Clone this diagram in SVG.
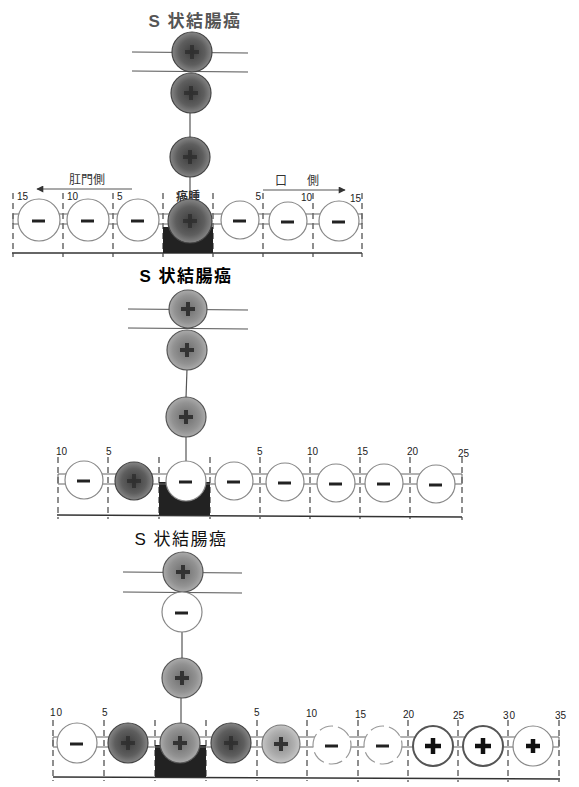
<svg xmlns="http://www.w3.org/2000/svg" width="579" height="787" viewBox="0 0 579 787">
<defs>
<radialGradient id="gDark" cx="50%" cy="50%" r="50%">
<stop offset="0%" stop-color="#3e3e3e"/><stop offset="65%" stop-color="#5e5e5e"/><stop offset="100%" stop-color="#858585"/>
</radialGradient>
<radialGradient id="gMid" cx="50%" cy="50%" r="50%">
<stop offset="0%" stop-color="#6e6e6e"/><stop offset="70%" stop-color="#929292"/><stop offset="100%" stop-color="#ababab"/>
</radialGradient>
<radialGradient id="gLight" cx="50%" cy="50%" r="50%">
<stop offset="0%" stop-color="#8a8a8a"/><stop offset="70%" stop-color="#b0b0b0"/><stop offset="100%" stop-color="#c6c6c6"/>
</radialGradient>
<marker id="ah" viewBox="0 0 10 10" refX="9" refY="5" markerWidth="9" markerHeight="7" orient="auto" markerUnits="userSpaceOnUse">
<path d="M0,0 L10,5 L0,10 Z" fill="#333"/>
</marker>
</defs>
<style>
.t{font-family:"Liberation Sans","Noto Sans CJK JP",sans-serif;text-anchor:middle}
.title{font-size:17px;letter-spacing:1.5px}
.num{font-family:"Liberation Sans",sans-serif;font-size:10px;fill:#222}
.lbl{font-family:"Liberation Sans","Noto Sans CJK JP",sans-serif;font-size:12px;fill:#333}
.ln{stroke:#555;stroke-width:1.2;fill:none}
.base{stroke:#333;stroke-width:1.5;fill:none}
.dash{stroke:#444;stroke-width:1.2;stroke-dasharray:6 4;fill:none}
.tube{stroke:#666;stroke-width:1;fill:none}
.w{fill:#fff;stroke:#888;stroke-width:1.2}
.wb{fill:#fff;stroke:#555;stroke-width:2}
.wd{fill:#fff;stroke:#999;stroke-width:1.2;stroke-dasharray:14 5}
.d{fill:url(#gDark);stroke:#444;stroke-width:1.2}
.m{fill:url(#gMid);stroke:#555;stroke-width:1.2}
.l{fill:url(#gLight);stroke:#777;stroke-width:1.2}
.minus{stroke:#222;stroke-width:3;fill:none}
.plus{stroke:#333;stroke-width:4;fill:none}
.plusD{stroke:#2a2a2a;stroke-width:4;fill:none;opacity:0.7}
.plusB{stroke:#111;stroke-width:4.5;fill:none}
.rect{fill:#222}
</style>
<rect width="579" height="787" fill="#fff"/>

<!-- ===== Section 1 ===== -->
<text class="t title" x="195" y="27" fill="#555" font-weight="bold">S 状結腸癌</text>
<g id="scale1">
<line class="base" x1="12" y1="253" x2="362" y2="253"/>
<g class="dash">
<line x1="13" y1="193" x2="13" y2="257"/><line x1="63" y1="193" x2="63" y2="257"/><line x1="113" y1="193" x2="113" y2="257"/><line x1="163" y1="193" x2="163" y2="257"/><line x1="213" y1="193" x2="213" y2="257"/><line x1="263" y1="193" x2="263" y2="257"/><line x1="313" y1="193" x2="313" y2="257"/><line x1="362" y1="193" x2="362" y2="257"/>
</g>
<text class="num" x="17" y="200">15</text><text class="num" x="67" y="200">10</text><text class="num" x="117" y="200">5</text>
<text class="num" x="261" y="200" text-anchor="end">5</text><text class="num" x="312" y="201" text-anchor="end">10</text><text class="num" x="361" y="202" text-anchor="end">15</text>
</g>
<rect id="tumor1" class="rect" x="163" y="227" width="50" height="26"/>
<g id="connectors1">
<line class="ln" x1="132" y1="52" x2="248" y2="53"/>
<line class="ln" x1="132" y1="71" x2="248" y2="72"/>
<line class="ln" x1="190" y1="113" x2="190" y2="137"/>
<line class="ln" x1="190" y1="177" x2="190" y2="199"/>
<path class="tube" d="M13,214 H362 M13,224 H362 M13,214 V224 M362,214 V224"/>
<line class="ln" x1="132" y1="189" x2="37" y2="189" marker-end="url(#ah)" stroke="#333" stroke-width="1.5"/>
<line class="ln" x1="263" y1="190" x2="345" y2="190" marker-end="url(#ah)" stroke="#333" stroke-width="1.5"/>
</g>
<text class="lbl" x="87" y="184" text-anchor="middle">肛門側</text>
<text class="lbl" x="281" y="185" text-anchor="middle">口</text>
<text class="lbl" x="313" y="185" text-anchor="middle">側</text>
<text class="lbl" x="188" y="201" text-anchor="middle" font-weight="bold">癌腫</text>

<g id="s1v1"><circle class="d" cx="192" cy="52" r="20"/><path class="plusD" d="M185,52 h14 M192,45 v14"/></g>
<g id="s1v2"><circle class="d" cx="191" cy="93" r="20"/><path class="plusD" d="M184,93 h14 M191,86 v14"/></g>
<g id="s1v3"><circle class="d" cx="190" cy="157" r="20"/><path class="plusD" d="M183,157 h14 M190,150 v14"/></g>
<g id="s1r1"><circle class="w" cx="39" cy="220" r="21"/><path class="minus" d="M32,221 h13"/></g>
<g id="s1r2"><circle class="w" cx="88" cy="220" r="21"/><path class="minus" d="M81,221 h13"/></g>
<g id="s1r3"><circle class="w" cx="138" cy="220" r="21"/><path class="minus" d="M131,221 h13"/></g>
<g id="s1r4"><circle class="d" cx="190" cy="221" r="22"/><path class="plusD" d="M183,221 h14 M190,214 v14"/></g>
<g id="s1r5"><circle class="w" cx="240" cy="220" r="19"/><path class="minus" d="M233,221 h13"/></g>
<g id="s1r6"><circle class="w" cx="288" cy="221" r="19"/><path class="minus" d="M281,222 h13"/></g>
<g id="s1r7"><circle class="w" cx="339" cy="221" r="20"/><path class="minus" d="M332,222 h13"/></g>

<!-- ===== Section 2 ===== -->
<text class="t title" x="186" y="282" fill="#000" font-weight="bold">S 状結腸癌</text>
<g id="scale2">
<line class="base" x1="57" y1="515" x2="462" y2="517"/>
<g class="dash">
<line x1="58" y1="457" x2="58" y2="519"/><line x1="108" y1="457" x2="108" y2="519"/><line x1="159" y1="457" x2="159" y2="519"/><line x1="210" y1="457" x2="210" y2="519"/><line x1="260" y1="457" x2="260" y2="519"/><line x1="310" y1="457" x2="310" y2="519"/><line x1="360" y1="457" x2="360" y2="519"/><line x1="410" y1="457" x2="410" y2="519"/><line x1="462" y1="457" x2="462" y2="520"/>
</g>
<text class="num" x="56" y="455">10</text><text class="num" x="106" y="455">5</text>
<text class="num" x="257" y="455">5</text><text class="num" x="307" y="455">10</text><text class="num" x="357" y="455">15</text><text class="num" x="407" y="455">20</text><text class="num" x="458" y="457">25</text>
</g>
<rect id="tumor2" class="rect" x="159" y="482" width="51" height="33"/>
<g id="connectors2">
<line class="ln" x1="128" y1="309" x2="248" y2="310"/>
<line class="ln" x1="128" y1="328" x2="248" y2="329"/>
<line class="ln" x1="187" y1="369" x2="186" y2="398"/>
<line class="ln" x1="186" y1="436" x2="186" y2="462"/>
<path class="tube" d="M58,474 H462 M58,484 H462 M58,474 V484 M462,474 V484"/>
</g>
<g id="s2v1"><circle class="m" cx="188" cy="309" r="19"/><path class="plus" d="M181,309 h14 M188,302 v14"/></g>
<g id="s2v2"><circle class="m" cx="187" cy="350" r="20"/><path class="plus" d="M180,350 h14 M187,343 v14"/></g>
<g id="s2v3"><circle class="m" cx="186" cy="417" r="20"/><path class="plus" d="M179,417 h14 M186,410 v14"/></g>
<g id="s2r1"><circle class="w" cx="84" cy="480" r="19"/><path class="minus" d="M77,481 h13"/></g>
<g id="s2r2"><circle class="d" cx="134" cy="481" r="19"/><path class="plusD" d="M127,481 h14 M134,474 v14"/></g>
<g id="s2r3"><circle class="w" cx="186" cy="481" r="20" stroke="#666"/><path class="minus" d="M179,482 h13"/></g>
<g id="s2r4"><circle class="w" cx="234" cy="481" r="19"/><path class="minus" d="M227,482 h13"/></g>
<g id="s2r5"><circle class="w" cx="285" cy="482" r="19"/><path class="minus" d="M278,483 h13"/></g>
<g id="s2r6"><circle class="w" cx="336" cy="483" r="19"/><path class="minus" d="M329,484 h13"/></g>
<g id="s2r7"><circle class="w" cx="384" cy="483" r="19"/><path class="minus" d="M377,484 h13"/></g>
<g id="s2r8"><circle class="w" cx="436" cy="484" r="19"/><path class="minus" d="M429,485 h13"/></g>

<!-- ===== Section 3 ===== -->
<text class="t title" x="181" y="545" fill="#111">S 状結腸癌</text>
<g id="scale3">
<line class="base" x1="53" y1="777" x2="560" y2="779"/>
<g class="dash">
<line x1="53" y1="720" x2="53" y2="781"/><line x1="104" y1="720" x2="104" y2="781"/><line x1="155" y1="720" x2="155" y2="781"/><line x1="206" y1="720" x2="206" y2="781"/><line x1="257" y1="720" x2="257" y2="781"/><line x1="307" y1="720" x2="307" y2="781"/><line x1="358" y1="720" x2="358" y2="782"/><line x1="408" y1="720" x2="408" y2="782"/><line x1="458" y1="720" x2="458" y2="782"/><line x1="508" y1="720" x2="508" y2="782"/><line x1="559" y1="720" x2="559" y2="782"/>
</g>
<text class="num" x="50" y="716" letter-spacing="1">10</text><text class="num" x="102" y="716">5</text>
<text class="num" x="254" y="716">5</text><text class="num" x="306" y="717">10</text><text class="num" x="355" y="718">15</text><text class="num" x="403" y="718">20</text><text class="num" x="453" y="719">25</text><text class="num" x="503" y="719" letter-spacing="1">30</text><text class="num" x="555" y="719">35</text>
</g>
<rect id="tumor3" class="rect" x="155" y="745" width="51" height="32"/>
<g id="connectors3">
<line class="ln" x1="123" y1="572" x2="242" y2="573"/>
<line class="ln" x1="123" y1="592" x2="242" y2="593"/>
<line class="ln" x1="182" y1="632" x2="182" y2="658"/>
<line class="ln" x1="181" y1="698" x2="181" y2="723"/>
<path class="tube" d="M53,737 H559 M53,747 H559 M53,737 V747 M559,737 V747"/>
</g>
<g id="s3v1"><circle class="m" cx="183" cy="572" r="20"/><path class="plus" d="M176,572 h14 M183,565 v14"/></g>
<g id="s3v2"><circle class="w" cx="182" cy="612" r="20" stroke="#aaa"/><path class="minus" d="M175,613 h13"/></g>
<g id="s3v3"><circle class="m" cx="182" cy="678" r="20"/><path class="plus" d="M175,678 h14 M182,671 v14"/></g>
<g id="s3r1"><circle class="w" cx="77" cy="743" r="20"/><path class="minus" d="M70,744 h13"/></g>
<g id="s3r2"><circle class="d" cx="128" cy="743" r="20"/><path class="plusD" d="M121,743 h14 M128,736 v14"/></g>
<g id="s3r3"><circle class="m" cx="180" cy="743" r="20"/><path class="plus" d="M173,743 h14 M180,736 v14"/></g>
<g id="s3r4"><circle class="d" cx="231" cy="743" r="20"/><path class="plusD" d="M224,743 h14 M231,736 v14"/></g>
<g id="s3r5"><circle class="l" cx="281" cy="744" r="19"/><path class="plus" d="M274,744 h14 M281,737 v14"/></g>
<g id="s3r6"><circle class="wd" cx="332" cy="745" r="19"/><path class="minus" d="M325,746 h13"/></g>
<g id="s3r7"><circle class="wd" cx="383" cy="745" r="19"/><path class="minus" d="M376,746 h13"/></g>
<g id="s3r8"><circle class="wb" cx="433" cy="746" r="20"/><path class="plusB" d="M425,746 h16 M433,738 v16"/></g>
<g id="s3r9"><circle class="wb" cx="483" cy="746" r="20"/><path class="plusB" d="M475,746 h16 M483,738 v16"/></g>
<g id="s3r10"><circle class="w" cx="533" cy="746" r="20" stroke="#777"/><path class="plusB" d="M526,746 h14 M533,739 v14"/></g>
</svg>
